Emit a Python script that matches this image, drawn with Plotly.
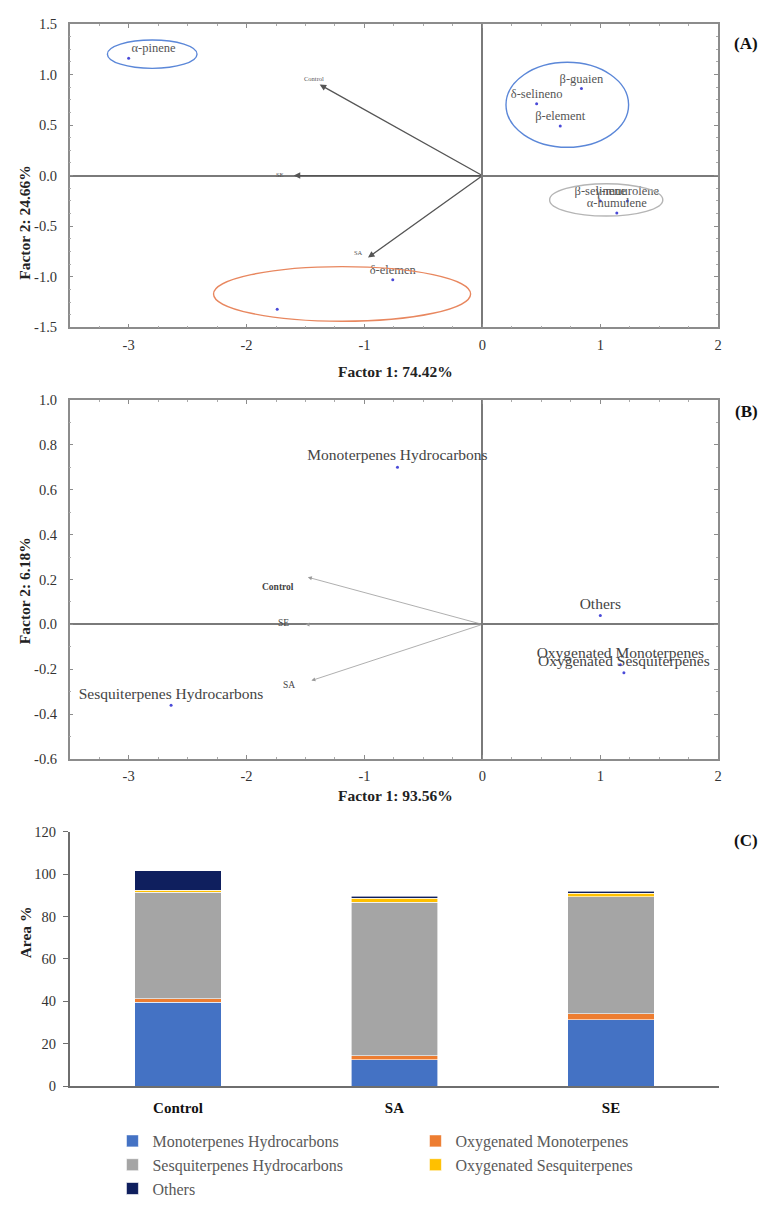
import plotly.graph_objects as go

# The page body has an 8px default margin, so the figure is drawn 8px in from
# the top-left corner; the figure is sized to fill the rest of the window.
OFF = 8
W, H = 767 - OFF, 1206 - OFF
SERIF = "Liberation Serif"

# ---------------- Panel A data ----------------
a_labels = ["α-pinene", "β-guaien", "δ-selineno", "β-element", "β-selinene",
            "γ-muurolene", "α-humulene", "δ-elemen", ""]
a_x = [-3.0, 0.84, 0.46, 0.66, 1.0, 1.23, 1.14, -0.76, -1.74]
a_y = [1.16, 0.86, 0.71, 0.49, -0.25, -0.25, -0.37, -1.03, -1.32]
a_textpos = ["top right", "top center", "top center", "top center", "top center",
             "top center", "top center", "top center", "top center"]
a_vec_names = ["Control", "SE", "SA"]
a_vec_x = [-1.38, -1.6, -0.97]
a_vec_y = [0.90, 0.0, -0.81]
# ellipses: center x, center y, radius x, radius y
a_ell_cx = [-2.8, 0.72, 1.05, -1.19]
a_ell_cy = [1.20, 0.70, -0.24, -1.17]
a_ell_rx = [0.38, 0.52, 0.48, 1.09]
a_ell_ry = [0.14, 0.42, 0.16, 0.27]
a_ell_col = ["#5b87d8", "#5b87d8", "#b5b5b5", "#e8875f"]
a_ticks_x = [-3, -2, -1, 0, 1, 2]
a_ticks_y = [-1.5, -1.0, -0.5, 0.0, 0.5, 1.0, 1.5]

# ---------------- Panel B data ----------------
b_labels = ["Monoterpenes Hydrocarbons", "Others", "Oxygenated Monoterpenes",
            "Oxygenated Sesquiterpenes", "Sesquiterpenes Hydrocarbons"]
b_x = [-0.72, 1.0, 1.17, 1.2, -2.64]
b_y = [0.70, 0.04, -0.18, -0.215, -0.36]
b_vec_names = ["Control", "SE", "SA"]
b_vec_x = [-1.48, -1.50, -1.45]
b_vec_y = [0.21, 0.0, -0.25]
b_ticks_y = [-0.6, -0.4, -0.2, 0.0, 0.2, 0.4, 0.6, 0.8, 1.0]

# ---------------- Panel C data ----------------
cats = ["Control", "SA", "SE"]
series_names = ["Monoterpenes Hydrocarbons", "Oxygenated Monoterpenes",
                "Sesquiterpenes Hydrocarbons", "Oxygenated Sesquiterpenes", "Others"]
mono_hc = [39.5, 12.5, 31.4]
oxy_mono = [1.8, 1.8, 2.8]
sesq_hc = [50.2, 72.5, 55.2]
oxy_sesq = [0.9, 1.8, 1.6]
others = [9.2, 0.9, 0.9]
series_vals = [mono_hc, oxy_mono, sesq_hc, oxy_sesq, others]
series_cols = ["#4472C4", "#ED7D31", "#A5A5A5", "#FFC000", "#0F1F5E"]


def fx(p):
    """window pixel x -> paper fraction"""
    return (p - OFF) / W


def fy(p):
    """window pixel y -> paper fraction"""
    return 1 - (p - OFF) / H


def fmt(v, nd):
    return ("%." + str(nd) + "f") % v


fig = go.Figure()

# Panel A points
fig.add_trace(go.Scatter(
    x=a_x, y=a_y, mode="markers+text", text=a_labels, textposition=a_textpos,
    marker=dict(size=3, color="#4a4ad8"),
    textfont=dict(family=SERIF, size=12.5, color="#555555"),
    xaxis="x", yaxis="y", showlegend=False, cliponaxis=False, hoverinfo="skip"))

# Panel B points
fig.add_trace(go.Scatter(
    x=b_x, y=b_y, mode="markers+text", text=b_labels, textposition="top center",
    marker=dict(size=3, color="#4a4ad8"),
    textfont=dict(family=SERIF, size=15.5, color="#444444"),
    xaxis="x2", yaxis="y2", showlegend=False, cliponaxis=False, hoverinfo="skip"))

# Panel C stacked bars
for name, vals, col in zip(series_names, series_vals, series_cols):
    fig.add_trace(go.Bar(
        x=cats, y=vals, name=name, marker=dict(color=col, line=dict(color="white", width=0.6)),
        width=0.4, xaxis="x3", yaxis="y3"))

shapes = []
for cx, cy, rx, ry, col in zip(a_ell_cx, a_ell_cy, a_ell_rx, a_ell_ry, a_ell_col):
    shapes.append(dict(type="circle", xref="x", yref="y", x0=cx - rx, x1=cx + rx,
                       y0=cy - ry, y1=cy + ry, line=dict(color=col, width=1.4)))

annotations = []
# Panel A vectors
a_lab_shift = [(-6, 6), (-14, 1), (-10, 5)]
for name, vx, vy, (sx, sy) in zip(a_vec_names, a_vec_x, a_vec_y, a_lab_shift):
    annotations.append(dict(x=vx, y=vy, ax=0, ay=0, xref="x", yref="y", axref="x", ayref="y",
                            text="", showarrow=True, arrowhead=2, arrowsize=1,
                            arrowwidth=1.3, arrowcolor="#555555"))
    annotations.append(dict(x=vx, y=vy, xref="x", yref="y", text=name, showarrow=False,
                            xshift=sx, yshift=sy,
                            font=dict(family=SERIF, size=6.5, color="#555555")))
# Panel B vectors
b_lab_text = ["<b>Control</b>", "SE", "SA"]
b_lab_shift = [(-30, -10), (-22, 1), (-22, -4)]
for txt, vx, vy, (sx, sy) in zip(b_lab_text, b_vec_x, b_vec_y, b_lab_shift):
    annotations.append(dict(x=vx, y=vy, ax=0, ay=0, xref="x2", yref="y2", axref="x2", ayref="y2",
                            text="", showarrow=True, arrowhead=2, arrowsize=1,
                            arrowwidth=0.8, arrowcolor="#9a9a9a"))
    annotations.append(dict(x=vx, y=vy, xref="x2", yref="y2", text=txt, showarrow=False,
                            xshift=sx, yshift=sy,
                            font=dict(family=SERIF, size=9.5, color="#444444")))

# Panel tags
for tag, ypx in [("(A)", 24), ("(B)", 412), ("(C)", 862)]:
    annotations.append(dict(x=fx(764), y=fy(ypx), xref="paper", yref="paper", xanchor="right",
                            text="<b>%s</b>" % tag,
                            showarrow=False, font=dict(family=SERIF, size=17, color="#111111")))

# Axis titles
title_font = dict(family=SERIF, size=15.5, color="#222222")
annotations += [
    dict(x=fx(398), y=fy(360), xref="paper", yref="paper", text="<b>Factor 1: 74.42%</b>",
         showarrow=False, font=title_font),
    dict(x=fx(14), y=fy(158), xref="paper", yref="paper", text="<b>Factor 2: 24.66%</b>",
         textangle=-90, showarrow=False, font=title_font),
    dict(x=fx(398), y=fy(815), xref="paper", yref="paper", text="<b>Factor 1: 93.56%</b>",
         showarrow=False, font=title_font),
    dict(x=fx(14), y=fy(595), xref="paper", yref="paper", text="<b>Factor 2: 6.18%</b>",
         textangle=-90, showarrow=False, font=title_font),
    dict(x=fx(15), y=fy(972), xref="paper", yref="paper", text="<b>Area %</b>",
         textangle=-90, showarrow=False, font=title_font),
]

tickfont = dict(family=SERIF, size=14.5, color="#333333")
frame = dict(showgrid=False, showline=True, mirror="ticks", linecolor="#8c8c8c", linewidth=1.5,
             ticks="inside", ticklen=4, tickcolor="#8c8c8c", zeroline=True,
             zerolinecolor="#7a7a7a", zerolinewidth=2, tickfont=tickfont)
pca_x = dict(frame, range=[-3.5, 2], tickvals=a_ticks_x, ticktext=[fmt(v, 0) for v in a_ticks_x],
             ticklabelstandoff=3,
             minor=dict(ticks="inside", ticklen=2, dtick=0.25, tickcolor="#aaaaaa"))

fig.update_layout(
    width=W, height=H, margin=dict(l=0, r=0, t=0, b=0),
    plot_bgcolor="white", paper_bgcolor="white",
    barmode="stack",
    shapes=shapes, annotations=annotations,
    xaxis=dict(pca_x, domain=[fx(70), fx(722)], anchor="y"),
    yaxis=dict(frame, range=[-1.5, 1.5], tickvals=a_ticks_y, ticktext=[fmt(v, 1) for v in a_ticks_y],
               ticklabelstandoff=8,
               minor=dict(ticks="inside", ticklen=2, dtick=0.125, tickcolor="#aaaaaa"),
               domain=[fy(326), fy(16)], anchor="x"),
    xaxis2=dict(pca_x, domain=[fx(70), fx(722)], anchor="y2"),
    yaxis2=dict(frame, range=[-0.6, 1.0], tickvals=b_ticks_y, ticktext=[fmt(v, 1) for v in b_ticks_y],
                ticklabelstandoff=8,
                minor=dict(ticks="inside", ticklen=2, dtick=0.1, tickcolor="#aaaaaa"),
                domain=[fy(767), fy(400)], anchor="x2"),
    xaxis3=dict(domain=[fx(70), fx(723)], anchor="y3", showline=True, linecolor="#6e6e6e",
                linewidth=1.5, ticks="", tickvals=cats, ticktext=["<b>%s</b>" % c for c in cats],
                ticklabelstandoff=7,
                tickfont=dict(family=SERIF, size=15, color="#111111"), showgrid=False),
    yaxis3=dict(domain=[fy(1101), fy(841)], anchor="x3", range=[0, 120], dtick=20, showgrid=False,
                showline=True, linecolor="#6e6e6e", linewidth=1.5, ticks="outside", ticklen=5,
                ticklabelstandoff=4,
                tickcolor="#6e6e6e", tickfont=tickfont, zeroline=False),
    legend=dict(orientation="h", x=fx(113), xanchor="left", y=fy(1140), yanchor="top",
                entrywidth=258, entrywidthmode="pixels", traceorder="normal",
                font=dict(family=SERIF, size=16, color="#595959"), itemwidth=30,
                tracegroupgap=0),
)

fig.write_html("out.html")
